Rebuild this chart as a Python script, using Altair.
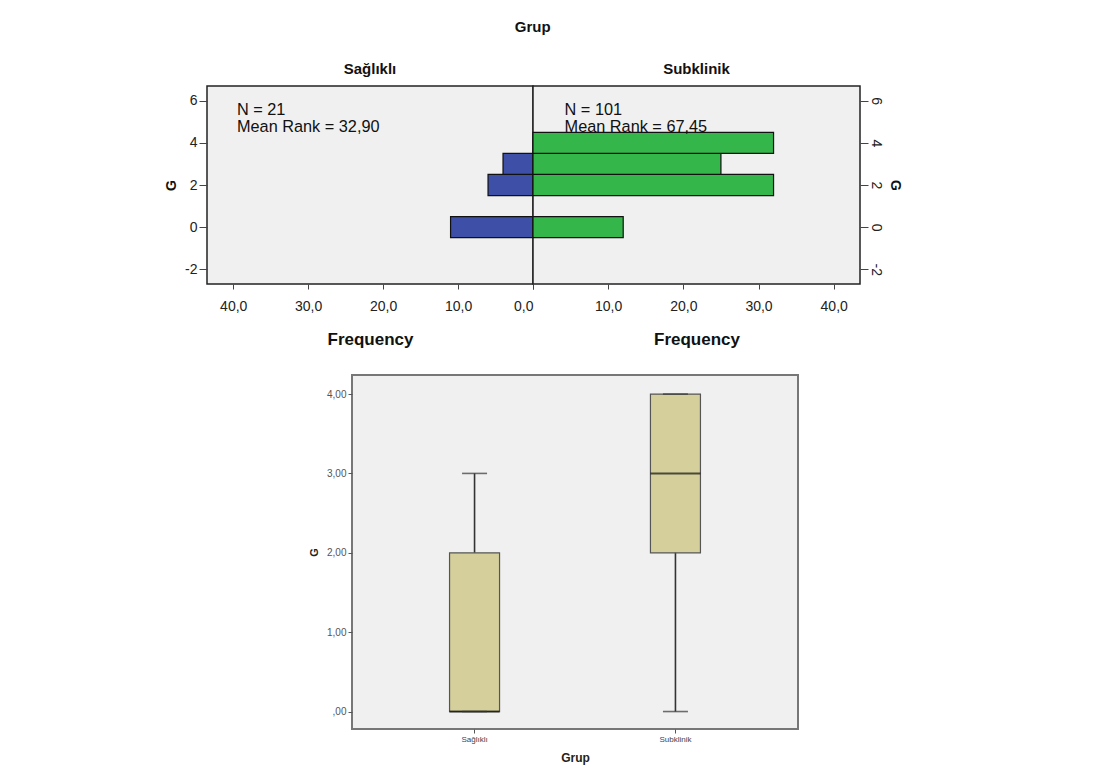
import altair as alt
import pandas as pd

# ---------------- data ----------------
g_values = [0, 1, 2, 3, 4]
saglikli_counts = [11, 0, 6, 4, 0]
subklinik_counts = [12, 0, 32, 25, 32]
group_names = ["Sağlıklı", "Subklinik"]
n_values = [21, 101]
mean_ranks = ["32,90", "67,45"]
freq_ticks = [0, 10, 20, 30, 40]
g_ticks = [-2, 0, 2, 4, 6]

box_groups = ["Sağlıklı", "Subklinik"]
box_min = [0, 0]
box_q1 = [0, 2]
box_median = [0, 3]
box_q3 = [2, 4]
box_max = [3, 4]
box_ticks = [0, 1, 2, 3, 4]

FONT = "Liberation Sans"
BLUE = "#3E4FA8"
GREEN = "#35B64A"
TAN = "#D4CF9B"
PANEL = "#F0F0F0"

G_LABEL = "datum.value < 0 ? '-' + abs(datum.value) : '' + datum.value"


def hist_panel(counts, name, n, mr, left, color, width):
    df = pd.DataFrame({"G": g_values, "count": counts})
    xscale = alt.Scale(domain=[0, 43.5], reverse=left, nice=False, zero=False)
    yscale = alt.Scale(domain=[-2.7, 6.7], nice=False, zero=False)
    freq_expr = "replace(format(datum.value, '.1f'), '.', ',')"
    if not left:
        freq_expr = "datum.value == 0 ? '' : " + freq_expr
    xaxis = alt.Axis(
        values=freq_ticks, title="Frequency", domain=False, grid=False,
        labelExpr=freq_expr,
        labelFont=FONT, labelFontSize=14, labelColor="#222", labelPadding=10,
        tickColor="#444", tickSize=5, titleFont=FONT, titleFontSize=17,
        titleFontWeight="bold", titleColor="#111", titlePadding=18,
    )
    if left:
        yaxis = alt.Axis(
            values=g_ticks, title="G", domain=False, grid=False, orient="left",
            labelExpr=G_LABEL,
            labelFont=FONT, labelFontSize=14, labelColor="#222",
            tickColor="#444", tickSize=8, labelPadding=2,
            titleFont=FONT, titleFontSize=14, titleFontWeight="bold",
            titleColor="#111", titlePadding=6,
        )
    else:
        yaxis = alt.Axis(
            values=g_ticks, title="G", domain=False, grid=False, orient="right",
            labelExpr=G_LABEL,
            labelAngle=90, labelAlign="center", labelBaseline="bottom",
            labelFont=FONT, labelFontSize=14, labelColor="#222",
            tickColor="#444", tickSize=8, labelPadding=0,
            titleFont=FONT, titleFontSize=14, titleFontWeight="bold",
            titleColor="#111", titleAngle=90, titlePadding=5,
        )
    bars = alt.Chart(df).transform_filter("datum.count > 0").transform_calculate(
        lo="datum.G - 0.5", hi="datum.G + 0.5"
    ).mark_bar(fill=color, stroke="#111", strokeWidth=1.2).encode(
        x=alt.X("count:Q", scale=xscale, axis=xaxis),
        x2=alt.value(width if left else 0),
        y=alt.Y("lo:Q", scale=yscale, axis=yaxis),
        y2="hi:Q",
    )
    tdf = pd.DataFrame({"label": [f"N = {n}\nMean Rank = {mr}"]})
    txt = alt.Chart(tdf).mark_text(
        align="left", baseline="top", font=FONT, fontSize=16.3,
        lineHeight=17.5, color="#111", lineBreak="\n",
    ).encode(
        x=alt.datum(39.5 if left else 4.2),
        y=alt.datum(5.95),
        text="label:N",
    )
    return alt.layer(bars, txt).properties(
        width=width, height=198,
        title=alt.TitleParams(name, font=FONT, fontSize=15, fontWeight="bold",
                              color="#111", offset=9),
        view=alt.ViewBackground(fill=PANEL, stroke="#222", strokeWidth=1.5),
    )


left_panel = hist_panel(saglikli_counts, group_names[0], n_values[0],
                        mean_ranks[0], True, BLUE, 326)
right_panel = hist_panel(subklinik_counts, group_names[1], n_values[1],
                         mean_ranks[1], False, GREEN, 327)

top = alt.hconcat(
    left_panel, right_panel, spacing=0, bounds="flush",
    title=alt.TitleParams("Grup", font=FONT, fontSize=15, fontWeight="bold",
                          color="#111", offset=26, anchor="middle"),
).resolve_scale(y="independent", x="independent")

# ---------------- box plot ----------------
bdf = pd.DataFrame({
    "Grup": box_groups, "min": box_min, "q1": box_q1, "median": box_median,
    "q3": box_q3, "max": box_max,
})
bx = alt.X(
    "Grup:N", sort=box_groups,
    scale=alt.Scale(paddingInner=0.5, paddingOuter=0.36),
    axis=alt.Axis(title="Grup", labelAngle=0, domain=False, grid=False,
                  labelFont=FONT, labelFontSize=8, labelColor="#444",
                  tickColor="#555", tickSize=4, labelPadding=2,
                  titleFont=FONT, titleFontSize=12, titleFontWeight="bold",
                  titleColor="#222", titlePadding=9),
)
byscale = alt.Scale(domain=[-0.22, 4.24], nice=False, zero=False)
byaxis = alt.Axis(
    values=box_ticks, title="G", domain=False, grid=False,
    labelExpr="datum.value == 0 ? ',00' : replace(format(datum.value, '.2f'), '.', ',')",
    labelFont=FONT, labelFontSize=10, labelColor="#555", tickColor="#555",
    tickSize=4, labelPadding=2, titleFont=FONT, titleFontSize=11,
    titleFontWeight="bold", titleColor="#222", titlePadding=7,
)
base = alt.Chart(bdf)
whisker = base.mark_rule(color="#333", strokeWidth=1.6).encode(
    x=bx, y=alt.Y("min:Q", scale=byscale, axis=byaxis), y2="max:Q")
box = base.mark_bar(size=50, fill=TAN, stroke="#555", strokeWidth=1.2).encode(
    x=bx, y="q1:Q", y2="q3:Q")
median = base.mark_tick(size=50, thickness=2, color="#111").encode(
    x=bx, y="median:Q")
cap_hi = base.mark_tick(size=25, thickness=1.6, color="#333").encode(
    x=bx, y="max:Q")
cap_lo = base.mark_tick(size=25, thickness=1.6, color="#333").encode(
    x=bx, y="min:Q")
boxplot = alt.layer(whisker, box, median, cap_hi, cap_lo).properties(
    width=446, height=354,
    view=alt.ViewBackground(fill=PANEL, stroke="#777", strokeWidth=2),
)

spacer = alt.Chart(pd.DataFrame({"a": [0]})).mark_point(opacity=0, size=0).encode(
    x=alt.value(5), y=alt.value(5)
).properties(width=145, height=354,
             view=alt.ViewBackground(fillOpacity=0, strokeOpacity=0))

bottom = alt.hconcat(spacer, boxplot, spacing=0, bounds="flush")

chart = alt.vconcat(top, bottom, spacing=26).properties(
    padding={"left": 163, "top": 20, "right": 5, "bottom": 5},
    background="white",
).configure_view(fill=PANEL)

chart.save("out.html", embed_options={"renderer": "svg", "actions": False})
